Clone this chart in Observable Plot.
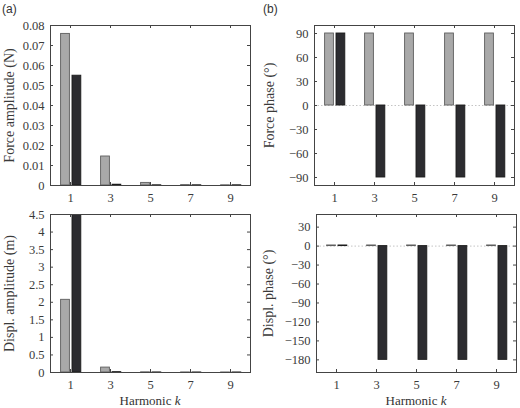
<!DOCTYPE html>
<html>
<head>
<meta charset="utf-8">
<script src="https://cdn.jsdelivr.net/npm/d3@7"></script>
<script src="https://cdn.jsdelivr.net/npm/@observablehq/plot@0.6"></script>
<style>
  body { margin: 0; background: #fff; }
  #fig { position: relative; width: 520px; height: 408px; background: #fff; overflow: hidden; }
  .panel { position: absolute; }
  .tag { position: absolute; font: 12px "Liberation Sans", Arial, sans-serif; color: #333; }
  .xlabel { position: absolute; font: 13px "Liberation Serif", serif; color: #333;
            transform: translate(-50%, -50%); white-space: nowrap; }
</style>
</head>
<body>
<div id="fig"></div>
<script>
// Harmonic orders shown on every panel
const harmonics = [1, 3, 5, 7, 9];

// Force amplitude (N): light and dark series
const forceAmpLight = [0.0758, 0.0145, 0.0013, 0.0002, 0.0001];
const forceAmpDark  = [0.0549, 0.0004, 0.0001, 0.0001, 0.0001];

// Force phase (degrees)
const forcePhaseLight = [90, 90, 90, 90, 90];
const forcePhaseDark  = [90, -90, -90, -90, -90];

// Displacement amplitude (m); the dark first harmonic runs past the axis top
const displAmpLight = [2.07, 0.14, 0.005, 0.002, 0.001];
const displAmpDark  = [4.8, 0.01, 0.002, 0.001, 0.001];

// Displacement phase (degrees)
const displPhaseLight = [1, 1, 1, 1, 1];
const displPhaseDark  = [1, -180, -180, -180, -180];

// Tick values for each y axis
const forceAmpTicks   = [0, 0.01, 0.02, 0.03, 0.04, 0.05, 0.06, 0.07, 0.08];
const forcePhaseTicks = [-90, -60, -30, 0, 30, 60, 90];
const displAmpTicks   = [0, 0.5, 1, 1.5, 2, 2.5, 3, 3.5, 4, 4.5];
const displPhaseTicks = [-180, -150, -120, -90, -60, -30, 0, 30];

const SERIF = "Liberation Serif";
const INK = "#3a3a3a";

function panel({light, dark, yDomain, yTicks, yFormat, yLabel, width, height,
                marginLeft, marginRight, marginTop, marginBottom, labelDx, zeroLine}) {
  const rows = harmonics.flatMap((k, i) => [
    {k, series: "light", value: light[i]},
    {k, series: "dark", value: dark[i]}
  ]);
  const fw = width - marginLeft - marginRight;
  const fh = height - marginTop - marginBottom;
  // bar extents on the harmonic axis, side by side around each odd k
  const span = {light: [-0.47, -0.03], dark: [0.1, 0.54]};
  const bars = (series, fill, stroke) => Plot.rect(rows.filter(d => d.series === series), {
    x1: d => d.k + span[series][0],
    x2: d => d.k + span[series][1],
    y1: 0,
    y2: "value",
    fill, stroke, strokeWidth: 0.9, clip: true
  });
  return Plot.plot({
    width, height, marginLeft, marginRight, marginTop, marginBottom,
    style: `font-family: "Liberation Serif", serif; font-size: 12px; color: ${INK}; background: transparent; overflow: visible;`,
    x: {domain: [0, 10]},
    y: {domain: yDomain},
    marks: [
      zeroLine ? Plot.ruleY([0], {stroke: "#c4c4c4", strokeDasharray: "1.5,2"}) : null,
      bars("light", "#a9a9a9", "#5e5e5e"),
      bars("dark", "#2c2c30", "#1c1c1c"),
      Plot.frame({stroke: "#444"}),
      // inward tick marks on all four sides
      Plot.ruleX(harmonics, {x: d => d, insetTop: fh - 3, stroke: "#444"}),
      Plot.ruleX(harmonics, {x: d => d, insetBottom: fh - 3, stroke: "#444"}),
      Plot.ruleY(yTicks, {y: d => d, insetRight: fw - 3, stroke: "#444"}),
      Plot.ruleY(yTicks, {y: d => d, insetLeft: fw - 3, stroke: "#444"}),
      Plot.axisX(harmonics, {tickSize: 0, tickPadding: 8, label: null, fontSize: 12.5, fontFamily: SERIF, fill: INK}),
      Plot.axisY(yTicks, {tickSize: 0, tickPadding: 6, tickFormat: yFormat, label: null, fontSize: 12.5, fontFamily: SERIF, fill: INK}),
      Plot.text([yLabel], {text: d => d, frameAnchor: "left", textAnchor: "middle", rotate: -90, dx: labelDx,
                           fontSize: 14, fontFamily: SERIF, fill: INK})
    ]
  });
}

const fig = document.getElementById("fig");
function place(node, left, top) {
  const wrap = document.createElement("div");
  wrap.className = "panel";
  wrap.style.left = left + "px";
  wrap.style.top = top + "px";
  wrap.appendChild(node);
  fig.appendChild(wrap);
}
const minus = d => (d < 0 ? "\u2212" + Math.abs(d) : String(d));

place(panel({
  light: forceAmpLight, dark: forceAmpDark, yDomain: [0, 0.08], yTicks: forceAmpTicks,
  yFormat: d => String(+d.toFixed(2)), yLabel: "Force amplitude (N)",
  width: 260, height: 200, marginLeft: 50, marginRight: 10, marginTop: 25, marginBottom: 15, labelDx: -41
}), 0, 0);

place(panel({
  light: forcePhaseLight, dark: forcePhaseDark, yDomain: [-100, 100], yTicks: forcePhaseTicks,
  yFormat: minus, yLabel: "Force phase (\u00b0)", zeroLine: true,
  width: 260, height: 200, marginLeft: 54, marginRight: 6, marginTop: 25, marginBottom: 15, labelDx: -45
}), 260, 0);

place(panel({
  light: displAmpLight, dark: displAmpDark, yDomain: [0, 4.5], yTicks: displAmpTicks,
  yFormat: d => String(d), yLabel: "Displ. amplitude (m)",
  width: 260, height: 208, marginLeft: 50, marginRight: 10, marginTop: 14, marginBottom: 36, labelDx: -41
}), 0, 200);

place(panel({
  light: displPhaseLight, dark: displPhaseDark, yDomain: [-200, 50], yTicks: displPhaseTicks,
  yFormat: minus, yLabel: "Displ. phase (\u00b0)", zeroLine: true,
  width: 260, height: 208, marginLeft: 56, marginRight: 4, marginTop: 14, marginBottom: 36, labelDx: -48
}), 260, 200);

function tag(text, left, top) {
  const el = document.createElement("div");
  el.className = "tag";
  el.textContent = text;
  el.style.left = left + "px";
  el.style.top = top + "px";
  fig.appendChild(el);
}
tag("(a)", 2, 2);
tag("(b)", 263, 2);

function xlabel(cx, cy) {
  const el = document.createElement("div");
  el.className = "xlabel";
  el.innerHTML = "Harmonic <i>k</i>";
  el.style.left = cx + "px";
  el.style.top = cy + "px";
  fig.appendChild(el);
}
xlabel(150, 401);
xlabel(416, 401);
</script>
</body>
</html>
